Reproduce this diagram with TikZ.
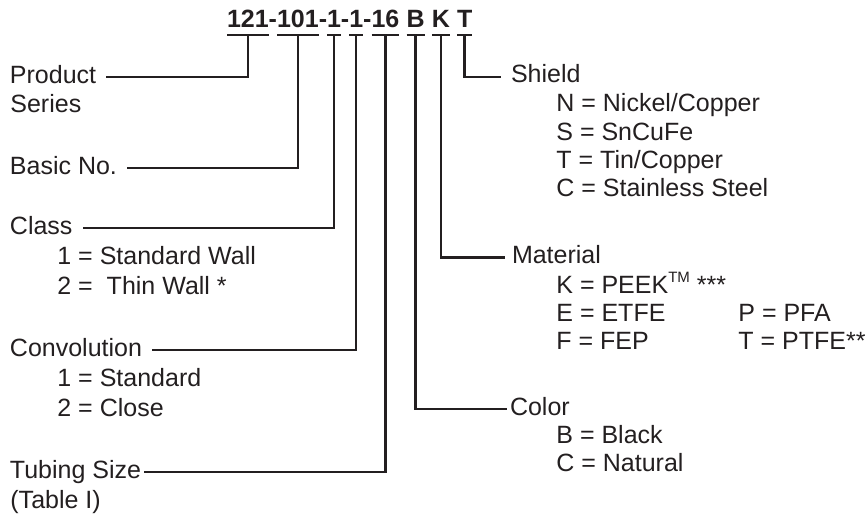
\documentclass[tikz,border=0pt]{standalone}
\usepackage{fontspec}
\setmainfont{Liberation Sans}
\usetikzlibrary{positioning}
\definecolor{inkblack}{HTML}{231F20}

\begin{document}
\begin{tikzpicture}[
  x=0.5pt, y=-0.5pt,
  font=\fontsize{12.5}{15}\selectfont,
  every node/.style={text=inkblack},
  code/.style={inner sep=0pt, outer sep=0pt, font=\fontsize{12.5}{15}\selectfont\bfseries},
  lbl/.style={anchor=base west, inner sep=0pt, outer xsep=5pt},
  item/.style={anchor=base west, inner sep=0pt},
  lead/.style={line width=1.2pt, draw=inkblack}
]
\useasboundingbox (0,0) rectangle (867,514);

% part number
\node[code, anchor=base west] (c121) at (227,27) {121};
\node[code, base right=0pt of c121] (h1) {-};
\node[code, base right=0pt of h1] (c101) {101};
\node[code, base right=0pt of c101] (h2) {-};
\node[code, base right=0pt of h2] (c1a) {1};
\node[code, base right=0pt of c1a] (h3) {-};
\node[code, base right=0pt of h3] (c1b) {1};
\node[code, base right=0pt of c1b] (h4) {-};
\node[code, base right=0pt of h4] (c16) {16};
\node[code, base right=3.6pt of c16] (cB) {B};
\node[code, base right=3.6pt of cB] (cK) {K};
\node[code, base right=3.6pt of cK] (cT) {T};

\foreach \c in {c121,c101,c1a,c1b,c16,cB,cK,cT}
  \draw[lead] ([yshift=-4pt]\c.base west) -- ([yshift=-4pt]\c.base east);

% left side
\node[lbl] (prod) at (0,83) {Product};
\node[item] (prodb) at (10,112) {Series};
\node[lbl] (basic) at (0,174) {Basic No.};
\node[lbl] (cls) at (0,234) {Class};
\node[item] (cls1) at (57,264) {1 = Standard Wall};
\node[item] (cls2) at (57,294) {2 =\ \ Thin Wall *};
\node[lbl] (conv) at (0,356) {Convolution};
\node[item] (conv1) at (57,386) {1 = Standard};
\node[item] (conv2) at (57,416) {2 = Close};
\node[lbl, outer xsep=1.5pt] (tube) at (7,478) {Tubing Size};
\node[item] (tubeb) at (10,508) {(Table I)};

% right side
\node[lbl] (shield) at (501,82.7) {Shield};
\node[item] (shn) at (556,111.7) {N = Nickel/Copper};
\node[item] (shs) at (556,140) {S = SnCuFe};
\node[item] (sht) at (556,168.3) {T = Tin/Copper};
\node[item] (shc) at (556,196.7) {C = Stainless Steel};
\node[lbl, outer xsep=3.5pt] (mat) at (505,263.3) {Material};
\node[item] (matk) at (556,293) {K = PEEK\raisebox{0.42em}{\fontsize{7.5}{8}\selectfont TM} ***};
\node[item] (mate) at (556,321.7) {E = ETFE};
\node[item] (matf) at (556,349.5) {F = FEP};
\node[item] (matp) at (738,321.7) {P = PFA};
\node[item] (matt) at (738,349.5) {T = PTFE**};
\node[lbl, outer xsep=1.5pt] (col) at (507,415) {Color};
\node[item] (colb) at (556,443.3) {B = Black};
\node[item] (colc) at (556,471.7) {C = Natural};

% leaders
\draw[lead] ([yshift=-4pt]c121.base) |- ([yshift=3pt]prod.base east);
\draw[lead] ([yshift=-4pt]c101.base) |- ([yshift=3pt]basic.base east);
\draw[lead] ([yshift=-4pt]c1a.base) |- ([yshift=3pt]cls.base east);
\draw[lead] ([yshift=-4pt]c1b.base) |- ([yshift=3pt]conv.base east);
\draw[lead] ([yshift=-4pt]c16.base) |- ([yshift=3pt]tube.base east);
\draw[lead] ([yshift=-4pt]cT.base) |- ([yshift=3pt]shield.base west);
\draw[lead] ([yshift=-4pt]cK.base) |- ([yshift=3pt]mat.base west);
\draw[lead] ([yshift=-4pt]cB.base) |- ([yshift=3pt]col.base west);

\end{tikzpicture}
\end{document}
